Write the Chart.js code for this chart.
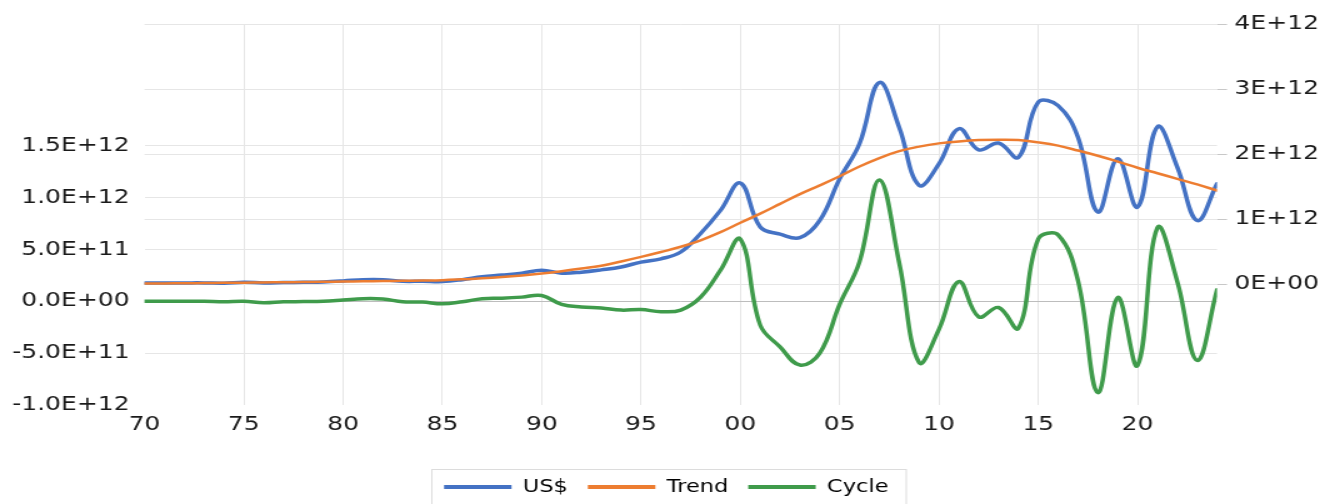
<!DOCTYPE html>
<html>
<head>
<meta charset="utf-8">
<script src="https://cdn.jsdelivr.net/npm/chart.js@4.4.0/dist/chart.umd.min.js"></script>
<style>
  html, body { margin: 0; padding: 0; background: #fff; }
  /* the reference picture is stretched sideways, so draw narrower and stretch */
  #wrap { width: 1066px; height: 504px; transform: scaleX(1.25); transform-origin: 0 0; }
</style>
</head>
<body>
<div id="wrap"><canvas id="chart"></canvas></div>
<script>
// values in units of 1E+12
const years = [
  1970, 1971, 1972, 1973, 1974, 1975, 1976, 1977, 1978, 1979,
  1980, 1981, 1982, 1983, 1984, 1985, 1986, 1987, 1988, 1989,
  1990, 1991, 1992, 1993, 1994, 1995, 1996, 1997, 1998, 1999,
  2000, 2001, 2002, 2003, 2004, 2005, 2006, 2007, 2008, 2009,
  2010, 2011, 2012, 2013, 2014, 2015, 2016, 2017, 2018, 2019,
  2020, 2021, 2022, 2023, 2024
];
const usd = [
  0.02, 0.02, 0.02, 0.02, 0.015, 0.03, 0.02, 0.025, 0.03, 0.035,
  0.05, 0.07, 0.07, 0.045, 0.045, 0.04, 0.07, 0.115, 0.14, 0.17,
  0.215, 0.17, 0.185, 0.22, 0.265, 0.34, 0.39, 0.495, 0.78, 1.135,
  1.555, 0.88, 0.77, 0.715, 0.98, 1.62, 2.16, 3.1, 2.41, 1.52,
  1.85, 2.39, 2.065, 2.17, 1.95, 2.8, 2.745, 2.26, 1.11, 1.93,
  1.185, 2.42, 1.8, 0.98, 1.545
];
const trend = [
  0.01, 0.012, 0.015, 0.018, 0.021, 0.024, 0.027, 0.03, 0.033, 0.036,
  0.04, 0.044, 0.048, 0.052, 0.056, 0.062, 0.075, 0.09, 0.11, 0.135,
  0.165, 0.2, 0.24, 0.285, 0.35, 0.42, 0.495, 0.575, 0.675, 0.8,
  0.945, 1.085, 1.235, 1.385, 1.52, 1.66, 1.81, 1.94, 2.045, 2.115,
  2.165, 2.195, 2.215, 2.22, 2.215, 2.18, 2.13, 2.055, 1.975, 1.885,
  1.79, 1.705, 1.62, 1.535, 1.44
];
const cycle = [
  0, 0, 0, 0, -0.005, 0, -0.015, -0.005, -0.003, 0,
  0.012, 0.025, 0.022, -0.005, -0.008, -0.025, -0.005, 0.025, 0.03, 0.04,
  0.055, -0.03, -0.055, -0.065, -0.085, -0.08, -0.1, -0.085, 0.04, 0.3,
  0.6, -0.23, -0.44, -0.615, -0.5, -0.03, 0.38, 1.17, 0.37, -0.59,
  -0.27, 0.19, -0.15, -0.06, -0.26, 0.6, 0.64, 0.2, -0.88, 0.035,
  -0.62, 0.71, 0.19, -0.57, 0.11
];

const xTicks = [1970, 1975, 1980, 1985, 1990, 1995, 2000, 2005, 2010, 2015, 2020];
const xTickLabels = ['70', '75', '80', '85', '90', '95', '00', '05', '10', '15', '20'];
const leftTicks = [-1.0, -0.5, 0, 0.5, 1.0, 1.5];
const leftTickLabels = ['-1.0E+12', '-5.0E+11', '0.0E+00', '5.0E+11', '1.0E+12', '1.5E+12'];
const rightTicks = [0, 1, 2, 3, 4];
const rightTickLabels = ['0E+00', '1E+12', '2E+12', '3E+12', '4E+12'];

const textColor = '#1a1a1a';
const gridColor = '#e6e6e6';
Chart.defaults.font.family = "'DejaVu Sans', Verdana, sans-serif";
Chart.defaults.color = textColor;

const toPoints = arr => years.map((yr, i) => ({ x: yr, y: arr[i] }));

// light frame round the legend, like the spreadsheet one
const legendFrame = {
    id: 'legendFrame',
    afterDraw(chart) {
        const lg = chart.legend;
        if (!lg || !lg.legendHitBoxes || !lg.legendHitBoxes.length) return;
        const boxes = lg.legendHitBoxes;
        const left = Math.min(...boxes.map(b => b.left)) - 10;
        const right = Math.max(...boxes.map(b => b.left + b.width)) + 14;
        const top = boxes[0].top + boxes[0].height / 2 - 18;
        const c = chart.ctx;
        c.save();
        c.strokeStyle = '#dcdcdc';
        c.lineWidth = 1;
        c.strokeRect(Math.round(left) + 0.5, Math.round(top) + 0.5, right - left, chart.height - top + 10);
        c.restore();
    }
};

new Chart(document.getElementById('chart'), {
    type: 'line',
    data: {
        datasets: [{
            label: 'US$',
            data: toPoints(usd),
            yAxisID: 'yR',
            borderColor: '#4472C4',
            borderWidth: 3.5,
            order: 3
        }, {
            label: 'Trend',
            data: toPoints(trend),
            yAxisID: 'yR',
            borderColor: '#ED7D31',
            borderWidth: 2.5,
            order: 2
        }, {
            label: 'Cycle',
            data: toPoints(cycle),
            yAxisID: 'yL',
            borderColor: '#3F9B4B',
            borderWidth: 3.5,
            order: 1
        }]
    },
    options: {
        responsive: true,
        maintainAspectRatio: false,
        animation: false,
        elements: {
            point: { radius: 0 },
            line: { tension: 0.4, fill: false, borderCapStyle: 'round', borderJoinStyle: 'round' }
        },
        layout: { padding: { top: 23, left: 0, right: 0, bottom: -2 } },
        plugins: {
            tooltip: { enabled: false },
            legend: {
                position: 'bottom',
                labels: {
                    boxWidth: 54,
                    boxHeight: 4,
                    padding: 16,
                    color: textColor,
                    font: { size: 18 },
                    generateLabels: chart => chart.data.datasets.map((d, i) => ({
                        text: d.label,
                        fillStyle: d.borderColor,
                        strokeStyle: d.borderColor,
                        lineWidth: 0,
                        hidden: false,
                        datasetIndex: i
                    }))
                }
            }
        },
        scales: {
            x: {
                type: 'linear',
                min: 1970,
                max: 2024,
                afterBuildTicks: s => { s.ticks = xTicks.map(v => ({ value: v })); },
                afterFit: s => { s.height = 57; },
                ticks: {
                    callback: (v, i) => xTickLabels[i],
                    padding: 8,
                    maxRotation: 0,
                    autoSkip: false,
                    font: { size: 20 }
                },
                grid: {
                    drawTicks: false,
                    color: c => (c.tick && c.tick.value === 1970) ? 'rgba(0,0,0,0)' : gridColor
                },
                border: { display: false }
            },
            yL: {
                position: 'left',
                min: -1.0,
                max: 2.673,
                afterBuildTicks: s => { s.ticks = leftTicks.map(v => ({ value: v })); },
                afterFit: s => { s.width = 115.6; },
                ticks: {
                    callback: (v, i) => leftTickLabels[i],
                    padding: 12,
                    font: { size: 20 }
                },
                grid: {
                    drawTicks: false,
                    color: c => {
                        if (!c.tick) return gridColor;
                        if (c.tick.value === -1.0) return 'rgba(0,0,0,0)';
                        if (c.tick.value === 0) return '#bdbdbd';
                        return gridColor;
                    }
                },
                border: { display: false }
            },
            yR: {
                position: 'right',
                min: -1.857,
                max: 4,
                afterBuildTicks: s => { s.ticks = rightTicks.map(v => ({ value: v })); },
                afterFit: s => { s.width = 92.4; },
                ticks: {
                    callback: (v, i) => rightTickLabels[i],
                    padding: 6,
                    font: { size: 20 }
                },
                grid: {
                    color: gridColor,
                    tickLength: 8,
                    tickColor: '#c8c8c8'
                },
                border: { display: false }
            }
        }
    },
    plugins: [legendFrame]
});
</script>
</body>
</html>
